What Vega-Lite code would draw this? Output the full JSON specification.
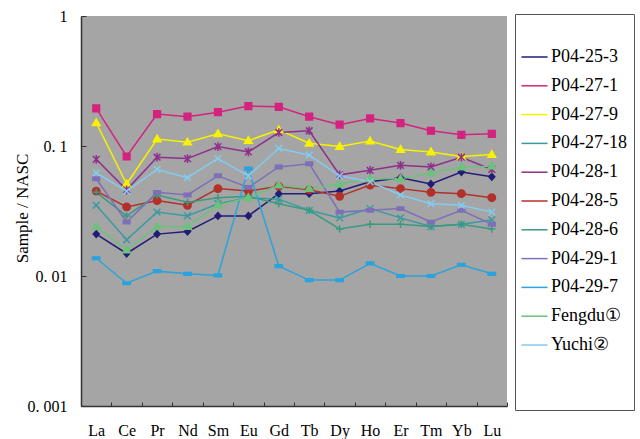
{
  "$schema": "https://vega.github.io/schema/vega-lite/v6.json",
  "width": 426,
  "height": 390,
  "autosize": {"type": "none"},
  "padding": {"left": 81, "top": 16, "right": 133, "bottom": 33},
  "background": "white",
  "config": {"view": {"fill": "#a5a5a5", "stroke": null}, "font": "Liberation Serif", "legend": {"orient": "left"}},
  "datasets": {
    "ree": [
      {"s": "P04-25-3", "e": "La", "v": 0.021}, {"s": "P04-25-3", "e": "Ce", "v": 0.0149}, {"s": "P04-25-3", "e": "Pr", "v": 0.021}, {"s": "P04-25-3", "e": "Nd", "v": 0.022}, {"s": "P04-25-3", "e": "Sm", "v": 0.029}, {"s": "P04-25-3", "e": "Eu", "v": 0.029}, {"s": "P04-25-3", "e": "Gd", "v": 0.043}, {"s": "P04-25-3", "e": "Tb", "v": 0.043}, {"s": "P04-25-3", "e": "Dy", "v": 0.045}, {"s": "P04-25-3", "e": "Ho", "v": 0.053}, {"s": "P04-25-3", "e": "Er", "v": 0.057}, {"s": "P04-25-3", "e": "Tm", "v": 0.051}, {"s": "P04-25-3", "e": "Yb", "v": 0.063}, {"s": "P04-25-3", "e": "Lu", "v": 0.058},
      {"s": "P04-27-1", "e": "La", "v": 0.195}, {"s": "P04-27-1", "e": "Ce", "v": 0.083}, {"s": "P04-27-1", "e": "Pr", "v": 0.176}, {"s": "P04-27-1", "e": "Nd", "v": 0.168}, {"s": "P04-27-1", "e": "Sm", "v": 0.182}, {"s": "P04-27-1", "e": "Eu", "v": 0.203}, {"s": "P04-27-1", "e": "Gd", "v": 0.2}, {"s": "P04-27-1", "e": "Tb", "v": 0.168}, {"s": "P04-27-1", "e": "Dy", "v": 0.146}, {"s": "P04-27-1", "e": "Ho", "v": 0.163}, {"s": "P04-27-1", "e": "Er", "v": 0.15}, {"s": "P04-27-1", "e": "Tm", "v": 0.131}, {"s": "P04-27-1", "e": "Yb", "v": 0.122}, {"s": "P04-27-1", "e": "Lu", "v": 0.124},
      {"s": "P04-27-9", "e": "La", "v": 0.151}, {"s": "P04-27-9", "e": "Ce", "v": 0.051}, {"s": "P04-27-9", "e": "Pr", "v": 0.113}, {"s": "P04-27-9", "e": "Nd", "v": 0.107}, {"s": "P04-27-9", "e": "Sm", "v": 0.124}, {"s": "P04-27-9", "e": "Eu", "v": 0.11}, {"s": "P04-27-9", "e": "Gd", "v": 0.133}, {"s": "P04-27-9", "e": "Tb", "v": 0.105}, {"s": "P04-27-9", "e": "Dy", "v": 0.099}, {"s": "P04-27-9", "e": "Ho", "v": 0.109}, {"s": "P04-27-9", "e": "Er", "v": 0.094}, {"s": "P04-27-9", "e": "Tm", "v": 0.09}, {"s": "P04-27-9", "e": "Yb", "v": 0.083}, {"s": "P04-27-9", "e": "Lu", "v": 0.086},
      {"s": "P04-27-18", "e": "La", "v": 0.035}, {"s": "P04-27-18", "e": "Ce", "v": 0.019}, {"s": "P04-27-18", "e": "Pr", "v": 0.031}, {"s": "P04-27-18", "e": "Nd", "v": 0.029}, {"s": "P04-27-18", "e": "Sm", "v": 0.036}, {"s": "P04-27-18", "e": "Eu", "v": 0.04}, {"s": "P04-27-18", "e": "Gd", "v": 0.039}, {"s": "P04-27-18", "e": "Tb", "v": 0.032}, {"s": "P04-27-18", "e": "Dy", "v": 0.028}, {"s": "P04-27-18", "e": "Ho", "v": 0.033}, {"s": "P04-27-18", "e": "Er", "v": 0.028}, {"s": "P04-27-18", "e": "Tm", "v": 0.024}, {"s": "P04-27-18", "e": "Yb", "v": 0.025}, {"s": "P04-27-18", "e": "Lu", "v": 0.027},
      {"s": "P04-28-1", "e": "La", "v": 0.079}, {"s": "P04-28-1", "e": "Ce", "v": 0.046}, {"s": "P04-28-1", "e": "Pr", "v": 0.082}, {"s": "P04-28-1", "e": "Nd", "v": 0.08}, {"s": "P04-28-1", "e": "Sm", "v": 0.099}, {"s": "P04-28-1", "e": "Eu", "v": 0.09}, {"s": "P04-28-1", "e": "Gd", "v": 0.127}, {"s": "P04-28-1", "e": "Tb", "v": 0.131}, {"s": "P04-28-1", "e": "Dy", "v": 0.06}, {"s": "P04-28-1", "e": "Ho", "v": 0.065}, {"s": "P04-28-1", "e": "Er", "v": 0.071}, {"s": "P04-28-1", "e": "Tm", "v": 0.069}, {"s": "P04-28-1", "e": "Yb", "v": 0.082}, {"s": "P04-28-1", "e": "Lu", "v": 0.066},
      {"s": "P04-28-5", "e": "La", "v": 0.045}, {"s": "P04-28-5", "e": "Ce", "v": 0.034}, {"s": "P04-28-5", "e": "Pr", "v": 0.038}, {"s": "P04-28-5", "e": "Nd", "v": 0.035}, {"s": "P04-28-5", "e": "Sm", "v": 0.047}, {"s": "P04-28-5", "e": "Eu", "v": 0.045}, {"s": "P04-28-5", "e": "Gd", "v": 0.049}, {"s": "P04-28-5", "e": "Tb", "v": 0.046}, {"s": "P04-28-5", "e": "Dy", "v": 0.041}, {"s": "P04-28-5", "e": "Ho", "v": 0.05}, {"s": "P04-28-5", "e": "Er", "v": 0.047}, {"s": "P04-28-5", "e": "Tm", "v": 0.044}, {"s": "P04-28-5", "e": "Yb", "v": 0.043}, {"s": "P04-28-5", "e": "Lu", "v": 0.04},
      {"s": "P04-28-6", "e": "La", "v": 0.044}, {"s": "P04-28-6", "e": "Ce", "v": 0.029}, {"s": "P04-28-6", "e": "Pr", "v": 0.042}, {"s": "P04-28-6", "e": "Nd", "v": 0.037}, {"s": "P04-28-6", "e": "Sm", "v": 0.04}, {"s": "P04-28-6", "e": "Eu", "v": 0.041}, {"s": "P04-28-6", "e": "Gd", "v": 0.036}, {"s": "P04-28-6", "e": "Tb", "v": 0.032}, {"s": "P04-28-6", "e": "Dy", "v": 0.023}, {"s": "P04-28-6", "e": "Ho", "v": 0.025}, {"s": "P04-28-6", "e": "Er", "v": 0.025}, {"s": "P04-28-6", "e": "Tm", "v": 0.024}, {"s": "P04-28-6", "e": "Yb", "v": 0.025}, {"s": "P04-28-6", "e": "Lu", "v": 0.023},
      {"s": "P04-29-1", "e": "La", "v": 0.056}, {"s": "P04-29-1", "e": "Ce", "v": 0.026}, {"s": "P04-29-1", "e": "Pr", "v": 0.044}, {"s": "P04-29-1", "e": "Nd", "v": 0.042}, {"s": "P04-29-1", "e": "Sm", "v": 0.059}, {"s": "P04-29-1", "e": "Eu", "v": 0.048}, {"s": "P04-29-1", "e": "Gd", "v": 0.069}, {"s": "P04-29-1", "e": "Tb", "v": 0.073}, {"s": "P04-29-1", "e": "Dy", "v": 0.031}, {"s": "P04-29-1", "e": "Ho", "v": 0.032}, {"s": "P04-29-1", "e": "Er", "v": 0.033}, {"s": "P04-29-1", "e": "Tm", "v": 0.026}, {"s": "P04-29-1", "e": "Yb", "v": 0.032}, {"s": "P04-29-1", "e": "Lu", "v": 0.025},
      {"s": "P04-29-7", "e": "La", "v": 0.0137}, {"s": "P04-29-7", "e": "Ce", "v": 0.0088}, {"s": "P04-29-7", "e": "Pr", "v": 0.0109}, {"s": "P04-29-7", "e": "Nd", "v": 0.0104}, {"s": "P04-29-7", "e": "Sm", "v": 0.0101}, {"s": "P04-29-7", "e": "Eu", "v": 0.067}, {"s": "P04-29-7", "e": "Gd", "v": 0.0119}, {"s": "P04-29-7", "e": "Tb", "v": 0.0093}, {"s": "P04-29-7", "e": "Dy", "v": 0.0093}, {"s": "P04-29-7", "e": "Ho", "v": 0.0125}, {"s": "P04-29-7", "e": "Er", "v": 0.01}, {"s": "P04-29-7", "e": "Tm", "v": 0.01}, {"s": "P04-29-7", "e": "Yb", "v": 0.0122}, {"s": "P04-29-7", "e": "Lu", "v": 0.0104},
      {"s": "Fengdu①", "e": "La", "v": 0.024}, {"s": "Fengdu①", "e": "Ce", "v": 0.0158}, {"s": "Fengdu①", "e": "Pr", "v": 0.024}, {"s": "Fengdu①", "e": "Nd", "v": 0.024}, {"s": "Fengdu①", "e": "Sm", "v": 0.035}, {"s": "Fengdu①", "e": "Eu", "v": 0.04}, {"s": "Fengdu①", "e": "Gd", "v": 0.05}, {"s": "Fengdu①", "e": "Tb", "v": 0.047}, {"s": "Fengdu①", "e": "Dy", "v": 0.051}, {"s": "Fengdu①", "e": "Ho", "v": 0.056}, {"s": "Fengdu①", "e": "Er", "v": 0.056}, {"s": "Fengdu①", "e": "Tm", "v": 0.062}, {"s": "Fengdu①", "e": "Yb", "v": 0.069}, {"s": "Fengdu①", "e": "Lu", "v": 0.07},
      {"s": "Yuchi②", "e": "La", "v": 0.062}, {"s": "Yuchi②", "e": "Ce", "v": 0.045}, {"s": "Yuchi②", "e": "Pr", "v": 0.066}, {"s": "Yuchi②", "e": "Nd", "v": 0.057}, {"s": "Yuchi②", "e": "Sm", "v": 0.08}, {"s": "Yuchi②", "e": "Eu", "v": 0.059}, {"s": "Yuchi②", "e": "Gd", "v": 0.096}, {"s": "Yuchi②", "e": "Tb", "v": 0.085}, {"s": "Yuchi②", "e": "Dy", "v": 0.059}, {"s": "Yuchi②", "e": "Ho", "v": 0.053}, {"s": "Yuchi②", "e": "Er", "v": 0.042}, {"s": "Yuchi②", "e": "Tm", "v": 0.036}, {"s": "Yuchi②", "e": "Yb", "v": 0.035}, {"s": "Yuchi②", "e": "Lu", "v": 0.031}
    ]
  },
  "data": {"name": "ree"},
  "encoding": {
    "x": {
      "field": "e", "type": "nominal",
      "scale": {"type": "band", "paddingInner": 0, "paddingOuter": 0, "domain": ["La", "Ce", "Pr", "Nd", "Sm", "Eu", "Gd", "Tb", "Dy", "Ho", "Er", "Tm", "Yb", "Lu"]},
      "axis": {"title": null, "labelAngle": 0, "tickBand": "extent", "tickSize": -4, "tickColor": "#333333", "domainColor": "#333333", "domainWidth": 1.5, "labelFont": "Liberation Serif", "labelFontSize": 16, "labelColor": "black", "labelPadding": 20, "grid": false}
    },
    "y": {
      "field": "v", "type": "quantitative",
      "scale": {"type": "log", "domain": [0.001, 1]},
      "axis": {"title": "Sample / NASC", "values": [0.001, 0.01, 0.1, 1], "labelExpr": "datum.value >= 0.9 ? '1' : datum.value >= 0.09 ? '0. 1' : datum.value >= 0.009 ? '0. 01' : '0. 001'", "tickSize": -5, "tickColor": "#333333", "domainColor": "#333333", "domainWidth": 1.5, "labelFont": "Liberation Serif", "labelFontSize": 16, "labelColor": "black", "labelPadding": 19, "grid": false, "titleX": -59, "titleY": 192, "titleAngle": -90, "titleAlign": "center", "titleBaseline": "middle", "titleFontWeight": "normal", "titleFontSize": 17, "titleFont": "Liberation Serif", "titleColor": "black"}
    }
  },
  "layer": [
    {
      "mark": {"type": "line", "strokeWidth": 1.5},
      "encoding": {
        "color": {
          "field": "s", "type": "nominal", "sort": null,
          "scale": {
            "domain": ["P04-25-3", "P04-27-1", "P04-27-9", "P04-27-18", "P04-28-1", "P04-28-5", "P04-28-6", "P04-29-1", "P04-29-7", "Fengdu①", "Yuchi②", "~"],
            "range": ["#221c78", "#d4237f", "#f7f200", "#3a9aa0", "#8e2f8c", "#b3302b", "#3a9a80", "#7e70b8", "#2ba3dc", "#6cc27c", "#84cbf0", "transparent"]
          },
          "legend": {
            "orient": "none", "legendX": 434, "legendY": -2,
            "title": "\u00a0", "titleFontSize": 17, "titlePadding": 10,
            "padding": 7, "strokeColor": "#555555",
            "labelFont": "Liberation Serif", "labelFontSize": 18, "labelColor": "black",
            "labelOffset": 7.5, "rowPadding": 10.8, "symbolSize": 81, "symbolStrokeWidth": 1.5,
            "symbolType": "M-2.9,0H2.9", "symbolOffset": 3.5,
            "labelExpr": "datum.value == '~' ? ['', ''] : datum.label"
          }
        }
      }
    },
    {
      "transform": [{"filter": "datum.v > 0"}],
      "mark": {"type": "point", "filled": true, "opacity": 1, "strokeWidth": 1.5, "size": 45},
      "encoding": {
        "fill": {
          "field": "s", "type": "nominal",
          "scale": {
            "domain": ["P04-25-3", "P04-27-1", "P04-27-9", "P04-27-18", "P04-28-1", "P04-28-5", "P04-28-6", "P04-29-1", "P04-29-7", "Fengdu①", "Yuchi②"],
            "range": ["#221c78", "#d4237f", "#f7f200", "#3a9aa0", "#8e2f8c", "#b3302b", "#3a9a80", "#7e70b8", "#2ba3dc", "#6cc27c", "#84cbf0"]
          },
          "legend": {
            "orient": "right", "offset": -122,
            "title": "\u00a0", "titleFontSize": 17, "titlePadding": 8,
            "padding": 7,
            "labelFont": "Liberation Serif", "labelFontSize": 18, "labelOpacity": 0,
            "labelOffset": 4, "rowPadding": 10.8, "symbolSize": 30, "symbolStrokeWidth": 1.5,
            "symbolOffset": 6.5
          }
        },
        "shape": {
          "field": "s", "type": "nominal", "legend": null,
          "scale": {
            "domain": ["P04-25-3", "P04-27-1", "P04-27-9", "P04-27-18", "P04-28-1", "P04-28-5", "P04-28-6", "P04-29-1", "P04-29-7", "Fengdu①", "Yuchi②"],
            "range": [
              "M0,-1L0.9,0L0,1L-0.9,0Z",
              "M-1,-1H1V1H-1Z",
              "M0,-1.15L1.15,0.8H-1.15Z",
              "M-1,-1L1,1M-1,1L1,-1",
              "M-1,-1L1,1M-1,1L1,-1M0,-1.3V1.3",
              "M-1.1,0A1.1,1.1 0 1,1 1.1,0A1.1,1.1 0 1,1 -1.1,0Z",
              "M-1.1,0H1.1M0,-1.1V1.1",
              "M-1,-0.5H1V0.5H-1Z",
              "M-1.1,-0.4H1.1V0.4H-1.1Z",
              "M0,-1.15L1.15,0.8H-1.15Z",
              "M-1,-1L1,1M-1,1L1,-1"
            ]
          }
        },
        "stroke": {
          "field": "s", "type": "nominal", "legend": null,
          "scale": {
            "domain": ["P04-25-3", "P04-27-1", "P04-27-9", "P04-27-18", "P04-28-1", "P04-28-5", "P04-28-6", "P04-29-1", "P04-29-7", "Fengdu①", "Yuchi②"],
            "range": ["#221c78", "#d4237f", "#f7f200", "#3a9aa0", "#8e2f8c", "#b3302b", "#3a9a80", "#7e70b8", "#2ba3dc", "#6cc27c", "#84cbf0"]
          }
        }
      }
    }
  ]
}
